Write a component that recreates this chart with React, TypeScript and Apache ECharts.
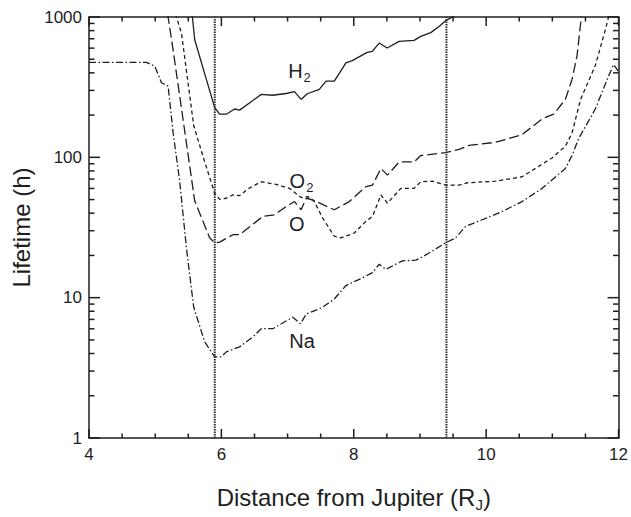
import React, { useEffect, useRef } from "react";
import * as echarts from "echarts";

const xTicks = [4, 6, 8, 10, 12];
const yTicks = [1, 10, 100, 1000];
const vLines = [5.9, 9.4];

const h2Points = [
  [5.55, 1050], [5.562, 1000], [5.597, 688], [5.773, 359], [5.898, 227], [5.973, 203], [6.075, 203],
  [6.2, 221], [6.275, 217], [6.471, 253], [6.602, 281], [6.772, 277], [6.979, 285], [7.104, 294],
  [7.205, 259], [7.304, 285], [7.48, 305], [7.581, 349], [7.706, 349], [7.882, 471], [7.977, 489],
  [8.203, 560], [8.279, 569], [8.384, 652], [8.505, 601], [8.685, 670], [8.911, 681], [9.012, 727],
  [9.163, 774], [9.288, 855], [9.389, 942], [9.499, 1005], [9.55, 1050],
];

const o2Points = [
  [5.31, 1050], [5.321, 1000], [5.397, 767], [5.496, 340], [5.582, 168], [5.733, 97.9], [5.898, 55.5],
  [5.974, 50.2], [6.075, 51.1], [6.174, 54.0], [6.275, 53.4], [6.4, 59.5], [6.602, 67.0], [6.828, 64.1],
  [7.028, 60.1], [7.205, 51.7], [7.304, 52.5], [7.405, 48.4], [7.53, 36.9], [7.706, 27.4], [7.807, 26.7],
  [8.008, 28.9], [8.184, 35.0], [8.283, 37.9], [8.41, 54.0], [8.509, 47.1], [8.711, 60.1], [8.911, 60.1],
  [9.012, 67.0], [9.187, 67.6], [9.389, 63.4], [9.589, 63.4], [9.715, 65.9], [10.142, 67.6], [10.543, 72.7],
  [10.995, 99], [11.197, 120], [11.297, 149], [11.427, 259], [11.649, 451], [11.8, 809], [11.849, 1000],
  [11.86, 1050],
];

const oPoints = [
  [5.18, 1050], [5.195, 1000], [5.27, 585], [5.597, 49], [5.722, 35.0], [5.823, 26.7], [5.898, 24.6],
  [5.974, 24.9], [6.174, 28.1], [6.275, 28.1], [6.626, 37.9], [6.802, 38.9], [6.979, 44.6], [7.104, 48.4],
  [7.205, 42.3], [7.28, 51.1], [7.379, 49.7], [7.706, 42.3], [7.932, 48.4], [8.184, 61.8], [8.283, 63.4],
  [8.41, 83.2], [8.509, 74.7], [8.686, 92.7], [8.911, 92.7], [9.012, 103], [9.389, 108], [9.589, 114],
  [9.74, 121.5], [10.142, 128], [10.343, 136], [10.543, 145], [10.845, 188], [11.021, 203], [11.197, 259],
  [11.297, 359], [11.372, 525], [11.438, 1000], [11.445, 1050],
];

const naPoints = [
  [4, 475], [4.869, 475], [4.994, 446], [5.095, 340], [5.195, 322], [5.27, 151], [5.371, 67.0],
  [5.472, 22.6], [5.582, 8.55], [5.748, 4.84], [5.898, 3.79], [6.0, 3.79], [6.075, 4.11], [6.275, 4.46],
  [6.475, 5.25], [6.602, 6.01], [6.777, 6.01], [7.078, 7.26], [7.194, 6.52], [7.285, 7.66], [7.48, 8.32],
  [7.53, 8.55], [7.706, 9.78], [7.882, 12.2], [8.083, 13.5], [8.283, 15.1], [8.384, 17.3], [8.485, 15.9],
  [8.735, 18.3], [8.937, 18.5], [9.062, 19.8], [9.389, 24.6], [9.54, 26.7], [9.69, 32.2], [9.941, 35.9],
  [10.242, 41.1], [10.543, 48.4], [10.845, 60.1], [11.197, 83.2], [11.297, 103], [11.397, 136],
  [11.649, 221], [11.849, 379], [11.925, 458], [12, 409],
];

const curveLabels = [
  [7.18, 410, "{b|H}{s|2}"],
  [7.21, 67.3, "{b|O}{s|2}"],
  [7.14, 33.5, "{b|O}"],
  [7.22, 4.92, "{b|Na}"],
];

const minorY: number[] = [];
[1, 10, 100].forEach((d) => {
  for (let m = 2; m <= 9; m++) minorY.push(d * m);
});
const xTickVals: number[] = [];
for (let i = 0; i <= 16; i++) xTickVals.push(4 + i * 0.5);

const FONT = "'Liberation Sans', Arial, Helvetica, sans-serif";
const INK = "#1e1e1e";

export default function App() {
  const ref = useRef<HTMLDivElement>(null);
  useEffect(() => {
    if (!ref.current) return;
    const chart = echarts.init(ref.current, null, { renderer: "svg" });
    const lineBase = { type: "line", showSymbol: false, symbol: "none", xAxisIndex: 0, yAxisIndex: 0, clip: true, silent: true };
    const axisCommon = {
      axisLine: { show: true, onZero: false, lineStyle: { color: INK, width: 1.5 } },
      splitLine: { show: false },
      axisTick: { show: false },
      minorTick: { show: false },
    };
    chart.setOption({
      animation: false,
      backgroundColor: "#ffffff",
      textStyle: { fontFamily: FONT },
      grid: { left: 89, right: 11, top: 17, bottom: 75, containLabel: false },
      xAxis: [
        {
          type: "value", min: 4, max: 12, interval: 2, position: "bottom",
          ...axisCommon,
          axisLabel: { show: true, margin: 8, fontSize: 17, color: INK, fontFamily: FONT, formatter: (v: number) => (xTicks.includes(v) ? String(v) : "") },
          name: "{a|Distance from Jupiter (R}{s|J}{a|)}",
          nameLocation: "middle",
          nameGap: 47,
          nameTextStyle: {
            rich: {
              a: { fontSize: 24, fontFamily: FONT, color: INK, lineHeight: 24, verticalAlign: "top" },
              s: { fontSize: 15, fontFamily: FONT, color: INK, lineHeight: 15, padding: [12, 0, 0, 0], verticalAlign: "top" },
            },
          },
        },
        {
          type: "value", min: 4, max: 12, interval: 2, position: "top",
          ...axisCommon,
          axisLabel: { show: false },
        },
      ],
      yAxis: [
        {
          type: "log", logBase: 10, min: 1, max: 1000, position: "left",
          ...axisCommon,
          axisLabel: { show: true, margin: 7, fontSize: 17, color: INK, fontFamily: FONT, formatter: (v: number) => { const r = Math.round(v); return yTicks.includes(r) ? String(r) : ""; } },
          name: "Lifetime (h)",
          nameLocation: "middle",
          nameGap: 53,
          nameTextStyle: { fontSize: 24, fontFamily: FONT, color: INK },
        },
        {
          type: "log", logBase: 10, min: 1, max: 1000, position: "right",
          ...axisCommon,
          axisLabel: { show: false },
        },
      ],
      series: [
        { ...lineBase, name: "H2", data: h2Points, lineStyle: { color: INK, width: 1.3, type: "solid" } },
        { ...lineBase, name: "O2", data: o2Points, lineStyle: { color: INK, width: 1.3, type: [4, 3] } },
        { ...lineBase, name: "O", data: oPoints, lineStyle: { color: INK, width: 1.3, type: [10, 4] } },
        { ...lineBase, name: "Na", data: naPoints, lineStyle: { color: INK, width: 1.3, type: [7, 2.5, 1.5, 2.5] } },
        ...vLines.map((x) => ({
          ...lineBase,
          name: "v" + x,
          data: [[x, 1], [x, 1000]],
          lineStyle: { color: "#2a2a2a", width: 2, type: [1.5, 1] },
        })),
        {
          type: "scatter",
          name: "labels",
          xAxisIndex: 0,
          yAxisIndex: 0,
          symbol: "circle",
          symbolSize: 0,
          itemStyle: { opacity: 1, color: "#ffffff", borderWidth: 0 },
          silent: true,
          data: curveLabels.map((d) => ({ value: [d[0], d[1]], text: d[2] })),
          label: {
            show: true,
            position: "inside",
            color: INK,
            opacity: 1,
            textBorderWidth: 0,
            textShadowBlur: 0,
            formatter: (p: any) => p.data.text,
            rich: {
              b: { fontSize: 20, fontFamily: FONT, color: INK, lineHeight: 20, verticalAlign: "top", textBorderWidth: 0 },
              s: { fontSize: 13, fontFamily: FONT, color: INK, lineHeight: 13, padding: [10, 0, 0, 1], verticalAlign: "top", textBorderWidth: 0 },
            },
          },
        },
      ],
    });

    // tick marks as thin filled rectangles, placed through the axes' own scales
    const px = (x: number, y: number) => chart.convertToPixel({ seriesIndex: 0 }, [x, y]) as number[];
    const W = 1.5;
    const tickStyle = { fill: INK };
    const ticks: any[] = [];
    xTickVals.forEach((v) => {
      const len = xTicks.includes(v) ? 9 : 4.5;
      const b = px(v, 1);
      const t = px(v, 1000);
      ticks.push({ type: "rect", silent: true, z: 100, shape: { x: b[0] - W / 2, y: b[1] - len, width: W, height: len }, style: tickStyle });
      ticks.push({ type: "rect", silent: true, z: 100, shape: { x: t[0] - W / 2, y: t[1], width: W, height: len }, style: tickStyle });
    });
    const yAll = [...yTicks.map((v) => [v, 11]), ...minorY.map((v) => [v, 5.5])];
    yAll.forEach(([v, len]) => {
      const l = px(4, v);
      const r = px(12, v);
      ticks.push({ type: "rect", silent: true, z: 100, shape: { x: l[0], y: l[1] - W / 2, width: len, height: W }, style: tickStyle });
      ticks.push({ type: "rect", silent: true, z: 100, shape: { x: r[0] - len, y: r[1] - W / 2, width: len, height: W }, style: tickStyle });
    });
    chart.setOption({ graphic: { elements: ticks } });

    return () => chart.dispose();
  }, []);
  return <div ref={ref} style={{ width: 631, height: 517, position: "absolute", left: 0, top: 0 }} />;
}
